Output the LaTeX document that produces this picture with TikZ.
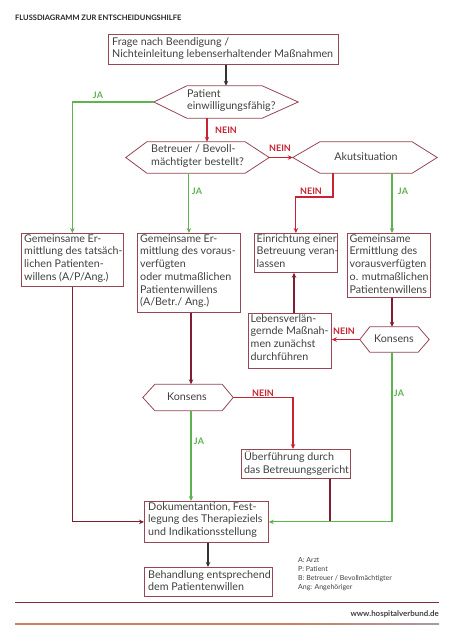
\documentclass[tikz,border=0pt]{standalone}
\usepackage{fontspec}
\setmainfont{Lato}
\usetikzlibrary{arrows.meta,calc}
\definecolor{boxc}{RGB}{150,70,85}
\definecolor{linec}{RGB}{125,30,50}
\definecolor{neinc}{RGB}{200,35,50}
\definecolor{jac}{RGB}{95,178,80}
\definecolor{txtc}{RGB}{65,65,65}
\definecolor{footc}{RGB}{200,130,95}
\definecolor{footd}{RGB}{175,150,170}
\begin{document}
\begin{tikzpicture}[x=1pt,y=-1pt,
  box/.style={draw=boxc, line width=0.8pt, inner sep=0pt, anchor=north west},
  txt/.style={anchor=north west, align=left, inner sep=0pt, text=txtc,
     font=\fontsize{10.7}{12.7}\selectfont},
  bigtxt/.style={txt, font=\fontsize{10.7}{12.2}\selectfont},
  hexnode/.style={inner sep=0pt},
  hexline/.style={draw=boxc, line width=0.8pt},
  conn/.style={line width=1.1pt, -{Stealth[length=5pt,width=4.5pt]}},
  ja/.style={conn, draw=jac},
  nein/.style={conn, draw=neinc},
  dark/.style={conn, draw=linec},
  blk/.style={conn, draw=black!80},
  jalab/.style={text=jac, font=\fontsize{9}{10}\selectfont\bfseries, inner sep=0pt},
  neinlab/.style={text=neinc, font=\fontsize{9}{10}\selectfont\bfseries, inner sep=0pt},
]
\useasboundingbox (0,0) rectangle (452,640);
\fill[white] (0,0) rectangle (452,640);

% title
\node[anchor=west, inner sep=0pt, text=black!85, font=\fontsize{7.5}{9}\selectfont\bfseries] (title) at (15,18) {FLUSSDIAGRAMM ZUR ENTSCHEIDUNGSHILFE};

% boxes
\node[box, minimum width=230pt, minimum height=30pt] (top) at (108,34) {};
\node[bigtxt] (toptxt) at ($(top.north west)+(4,3)$) {Frage nach Beendigung /\\Nichteinleitung lebenserhaltender Maßnahmen};

\node[box, minimum width=102pt, minimum height=53pt] (a) at (21,233) {};
\node[txt] (atxt) at ($(a.north west)+(3,1.2)$) {Gemeinsame Er-\\mittlung des tatsäch-\\lichen Patienten-\\willens (A/P/Ang.)};

\node[box, minimum width=103pt, minimum height=79pt] (b) at (137,233) {};
\node[txt] (btxt) at ($(b.north west)+(3,1.2)$) {Gemeinsame Er-\\mittlung des voraus-\\verfügten\\oder mutmaßlichen\\Patientenwillens\\(A/Betr./ Ang.)};

\node[box, minimum width=83pt, minimum height=39pt] (c) at (254,233) {};
\node[txt] (ctxt) at ($(c.north west)+(2.5,1.2)$) {Einrichtung einer\\Betreuung veran-\\lassen};

\node[box, minimum width=83pt, minimum height=64pt] (d) at (347,233) {};
\node[txt] (dtxt) at ($(d.north west)+(2.5,1.2)$) {Gemeinsame\\Ermittlung des\\vorausverfügten\\o. mutmaßlichen\\Patientenwillens};

\node[box, minimum width=83pt, minimum height=55pt] (e) at (248,313) {};
\node[txt] (etxt) at ($(e.north west)+(2.5,1.2)$) {Lebensverlän-\\gernde Maßnah-\\men zunächst\\durchführen};

\node[box, minimum width=109pt, minimum height=29pt] (f) at (241,449) {};
\node[txt] (ftxt) at ($(f.north west)+(3,2)$) {Überführung durch\\das Betreuungsgericht};

\node[box, minimum width=124pt, minimum height=41pt] (doc) at (144,501) {};
\node[txt] (doctxt) at ($(doc.north west)+(4,1.2)$) {Dokumentantion, Fest-\\legung des Therapieziels\\und Indikationsstellung};

\node[box, minimum width=128pt, minimum height=29pt] (g) at (144,567) {};
\node[bigtxt] (gtxt) at ($(g.north west)+(4,3)$) {Behandlung entsprechend\\dem Patientenwillen};

% hexagons
\node[hexnode, minimum width=144pt, minimum height=32pt] (h1) at (226,102) {};
\draw[hexline] (h1.west) -- ($(h1.north west)+(33,0)$) -- ($(h1.north east)+(-36,0)$) -- (h1.east) -- ($(h1.south east)+(-36,0)$) -- ($(h1.south west)+(33,0)$) -- cycle;
\node[txt] (h1txt) at (187,89) {Patient\\einwilligungsfähig?};

\node[hexnode, minimum width=143pt, minimum height=31pt] (h2) at (197.5,157.5) {};
\draw[hexline] (h2.west) -- ($(h2.north west)+(21,0)$) -- ($(h2.north east)+(-24,0)$) -- (h2.east) -- ($(h2.south east)+(-24,0)$) -- ($(h2.south west)+(21,0)$) -- cycle;
\node[txt] (h2txt) at (151,144.5) {Betreuer / Bevoll-\\mächtigter bestellt?};

\node[hexnode, minimum width=144pt, minimum height=31pt] (h3) at (365,157.5) {};
\draw[hexline] (h3.west) -- ($(h3.north west)+(27,0)$) -- ($(h3.north east)+(-25,0)$) -- (h3.east) -- ($(h3.south east)+(-25,0)$) -- ($(h3.south west)+(27,0)$) -- cycle;
\node[inner sep=0pt, text=txtc, font=\fontsize{10.7}{12}\selectfont] (h3txt) at (366,157) {Akutsituation};

\node[hexnode, minimum width=69pt, minimum height=25pt] (k2) at (394.5,339.5) {};
\draw[hexline] (k2.west) -- ($(k2.north west)+(10,0)$) -- ($(k2.north east)+(-11,0)$) -- (k2.east) -- ($(k2.south east)+(-11,0)$) -- ($(k2.south west)+(10,0)$) -- cycle;
\node[inner sep=0pt, text=txtc, font=\fontsize{10.7}{12}\selectfont] (k2txt) at (394,339) {Konsens};

\node[hexnode, minimum width=90pt, minimum height=26pt] (k1) at (188,397.5) {};
\draw[hexline] (k1.west) -- ($(k1.north west)+(12,0)$) -- ($(k1.north east)+(-11,0)$) -- (k1.east) -- ($(k1.south east)+(-11,0)$) -- ($(k1.south west)+(12,0)$) -- cycle;
\node[inner sep=0pt, text=txtc, font=\fontsize{10.7}{12}\selectfont] (k1txt) at (187,397) {Konsens};

% helper x-positions
\coordinate (xn1) at (207,0);
\coordinate (xb) at (191,0);
\coordinate (xn3) at (333,0);
\coordinate (xd) at (392,0);
\coordinate (xe) at (294,0);
\coordinate (xf) at (293,0);
\coordinate (xg) at (330,0);
\coordinate (xh) at (208,0);
\coordinate (yn3) at (0,197);
\coordinate (yj) at (0,521);

% connectors
\draw[blk] (top.south -| h1.north) -- (h1.north);
\draw[ja] (h1.west) -| (a.north);
\draw[nein] (xn1 |- h1.south) -- (xn1 |- h2.north);
\draw[nein] (h2.east) -- (h3.west);
\draw[ja] (b.north |- h2.south) -- (b.north);
\draw[nein] (xn3 |- h3.south) -- (xn3 |- yn3) -| (c.north);
\draw[ja] (xd |- h3.south) -- (xd |- d.north);
\draw[dark] (xe |- e.north) -- (xe |- c.south);
\draw[dark] (xd |- d.south) -- (xd |- k2.north);
\draw[nein] (k2.west) -- (k2.west -| e.east);
\draw[ja] (k2.south -| xd) |- (doc.east);
\draw[dark] (xb |- b.south) -- (xb |- k1.north);
\draw[nein] (k1.east) -| (xf |- f.north);
\draw[ja] (xb |- k1.south) -- (xb |- doc.north);
\draw[line width=1.1pt, draw=linec] (xg |- f.south) -- (xg |- yj);
\draw[dark] (a.south) |- (doc.west);
\draw[blk] (xh |- doc.south) -- (xh |- g.north);

% labels
\node[jalab] (l1) at (98,95) {JA};
\node[neinlab] (l2) at (226,130.5) {NEIN};
\node[neinlab] (l3) at (280,148) {NEIN};
\node[neinlab] (l4) at (311,191) {NEIN};
\node[jalab] (l5) at (403,191) {JA};
\node[jalab] (l6) at (197,191) {JA};
\node[neinlab] (l7) at (344,331) {NEIN};
\node[jalab] (l8) at (399,393) {JA};
\node[neinlab] (l9) at (263,393) {NEIN};
\node[jalab] (l10) at (199,441) {JA};

% legend
\node[anchor=north west, align=left, inner sep=0pt, text=txtc, font=\fontsize{7}{9}\selectfont] (leg) at (298,557) {A: Arzt\\P: Patient\\B: Betreuer / Bevollmächtigter\\Ang: Angehöriger};

% footer
\draw[draw=linec!85!gray, line width=0.9pt] (15,602) -- (439,602);
\node[anchor=base east, inner sep=0pt, text=black!75, font=\fontsize{7.9}{9}\selectfont\bfseries] (url) at (439,616) {www.hospitalverbund.de};
\fill[footc] (15,623.4) rectangle (292,624.8);
\shade[left color=footc, right color=footd] (292,623.4) rectangle (439,624.8);
\end{tikzpicture}
\end{document}
